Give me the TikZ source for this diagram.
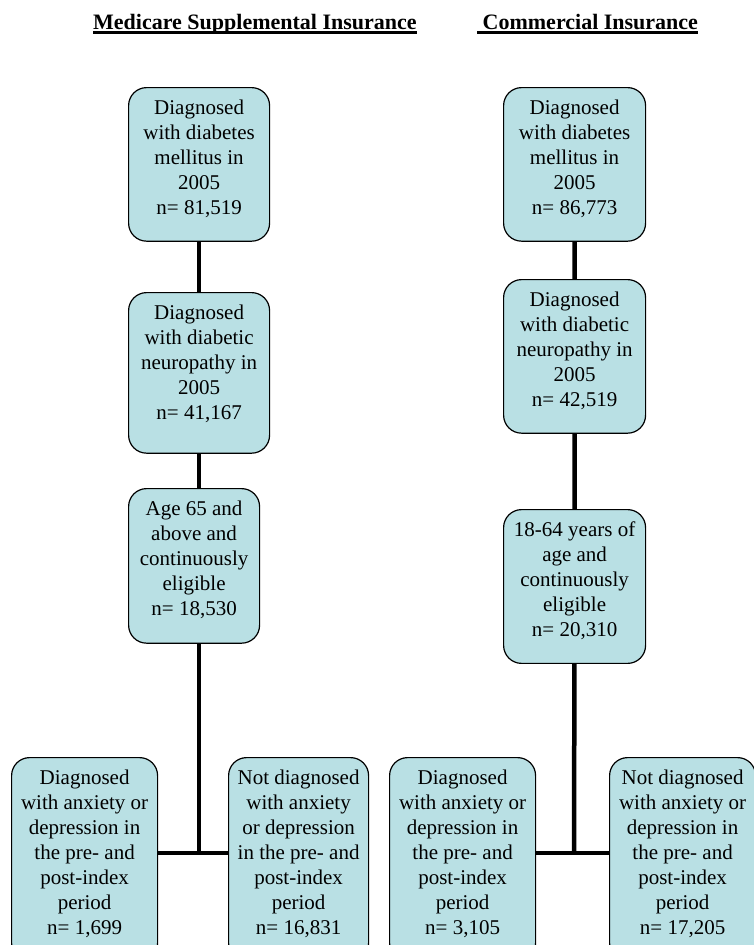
\documentclass[tikz,border=0pt]{standalone}
\usepackage{fontspec}
\setmainfont{Liberation Serif}
\usetikzlibrary{positioning}
\usepackage{xcolor}
\definecolor{paleaqua}{RGB}{185,224,228}
\tikzset{flowbox/.style={rectangle, rounded corners=18pt, fill=paleaqua, draw=black, line width=1.2pt, align=center, anchor=north west, inner xsep=2pt, inner ysep=12pt, text depth=15pt, font=\fontsize{21}{25}\selectfont},
flowline/.style={line width=4.5pt},
titletext/.style={anchor=base west, inner sep=0pt, font=\fontsize{22}{26}\selectfont\bfseries},
titleline/.style={line width=3pt}}

\begin{document}
\begin{tikzpicture}
                \useasboundingbox (0pt, 0pt) rectangle (754pt, -945pt);
                \clip (0pt, 0pt) rectangle (754pt, -945pt);

                % Titles
                \node[titletext] (mtitle) at (93pt, -29pt) {Medicare Supplemental Insurance};
                \node[titletext] (ctitle) at (477pt, -29pt) {~Commercial Insurance};
                \draw[titleline] ([yshift=-3.5pt]mtitle.base west) -- ([yshift=-3.5pt]mtitle.base east);
                \draw[titleline] ([yshift=-3.5pt]ctitle.base west) -- ([yshift=-3.5pt]ctitle.base east);

                % Medicare boxes
                \node[flowbox, minimum width=141pt] (mdm) at (128pt, -87pt) {Diagnosed\\with diabetes\\mellitus in\\2005\\n= 81,519};
                \node[flowbox, minimum width=141pt, text depth=22pt] (mdn) at (128pt, -292pt) {Diagnosed\\with diabetic\\neuropathy in\\2005\\n= 41,167};
                \node[flowbox, minimum width=131pt, text depth=16pt] (mage) at (128pt, -488pt) {Age 65 and\\above and\\continuously\\eligible\\n= 18,530};
                \node[flowbox, minimum width=146pt] (mdiag) at (11pt, -757pt) {Diagnosed\\with anxiety or\\depression in\\the pre- and\\post-index\\period\\n= 1,699};
                \node[flowbox, minimum width=140pt] (mnot) at (228pt, -757pt) {Not diagnosed\\with anxiety\\or depression\\in the pre- and\\post-index\\period\\n= 16,831};

                % Commercial boxes
                \node[flowbox, minimum width=142pt] (cdm) at (503pt, -87pt) {Diagnosed\\with diabetes\\mellitus in\\2005\\n= 86,773};
                \node[flowbox, minimum width=142pt] (cdn) at (503pt, -279pt) {Diagnosed\\with diabetic\\neuropathy in\\2005\\n= 42,519};
                \node[flowbox, minimum width=142pt] (cage) at (503pt, -509pt) {18-64 years of\\age and\\continuously\\eligible\\n= 20,310};
                \node[flowbox, minimum width=146pt] (cdiag) at (389pt, -757pt) {Diagnosed\\with anxiety or\\depression in\\the pre- and\\post-index\\period\\n= 3,105};
                \node[flowbox, minimum width=146pt] (cnot) at (609pt, -757pt) {Not diagnosed\\with anxiety or\\depression in\\the pre- and\\post-index\\period\\n= 17,205};

                % Connectors
                \coordinate (mjoin) at (199pt, -853pt);
                \coordinate (cjoin) at (574pt, -853pt);
                \draw[flowline] (mdm) -- (mdn);
                \draw[flowline] (mdn.south) -- (mdn.south |- mage.north);
                \draw[flowline] (mage.south -| mjoin) -- (mjoin);
                \draw[flowline] (mdiag.east |- mjoin) -- (mnot.west |- mjoin);
                \draw[flowline] (cdm) -- (cdn) -- (cage) -- (cjoin);
                \draw[flowline] (cdiag.east |- cjoin) -- (cnot.west |- cjoin);
            \end{tikzpicture}
\end{document}
